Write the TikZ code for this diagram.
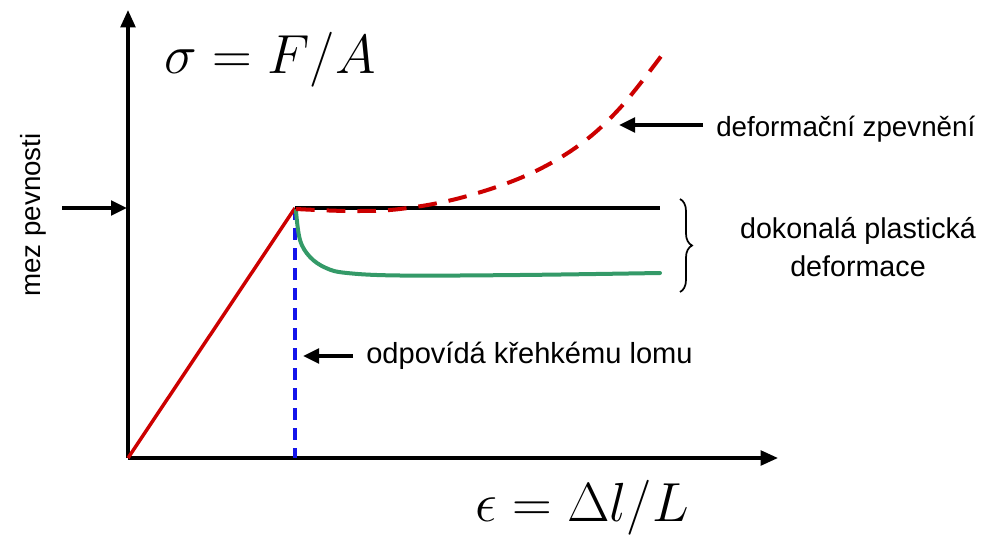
\documentclass[tikz,border=0pt]{standalone}
\usepackage{fontspec}
\newfontfamily\arialf{Liberation Sans}
\usetikzlibrary{arrows.meta,decorations.pathreplacing}
\definecolor{cred}{RGB}{204,0,0}
\definecolor{cgreen}{RGB}{52,154,104}
\definecolor{cblue}{RGB}{20,20,235}
\begin{document}
\begin{tikzpicture}[x=0.75pt,y=-0.75pt,
  axis/.style={line width=2.5pt,-{Triangle[length=13pt,width=11pt]}},
  lblarrow/.style={line width=2.5pt,-{Triangle[length=12pt,width=11pt]}},
  lbl/.style={font=\arialf\fontsize{20.8}{25}\selectfont,inner sep=0pt,align=center},
  formula/.style={font=\Huge,inner sep=0pt,scale=1.66}]
\useasboundingbox (0,0) rectangle (993,535);
% axes
\coordinate (O) at (128,458);
\coordinate (ytip) at (128,10);
\coordinate (xtip) at (778,458);
\coordinate (Y) at (295,208);
\coordinate (Yb) at (295,458);
\coordinate (Bend) at (660,208);
\draw[axis] (O) -- (ytip);
\draw[axis] (O) -- (xtip);
% blue dashed
\draw[cblue,line width=2.5pt,dash pattern=on 9pt off 6pt] (Y) -- (Yb);
% elastic
\draw[cred,line width=2.6pt] (O) -- (Y);
% perfect plastic
\draw[line width=3.2pt] (Y) -- (Bend);
% green
\draw[cgreen,line width=3pt,line cap=round] plot[smooth,tension=0.6] coordinates
  {(296,211) (300,240) (310,257) (326,268) (347,273) (400,275.5) (520,275) (660,273)};
% red dashed hardening
\draw[cred,line width=3pt,dash pattern=on 14pt off 9pt] plot[smooth,tension=0.6] coordinates
  {(296,209) (350,211) (400,209) (460,198) (525,176) (578,146) (620,108) (662,55)};
% brace
\draw[line width=1.3pt,decorate,decoration={brace,amplitude=9pt}] (680,199) -- (680,292) coordinate[midway] (brmid);
% labels
\node[formula] (sig) at (270,60) {$\sigma = F/A$};
\node[formula] (eps) at (582,508) {$\epsilon = \Delta l/L$};
\node[lbl,rotate=90] (mez) at (33,215) {mez pevnosti};
\coordinate (mezs) at (62,208);
\coordinate (meze) at (127,208);
\draw[lblarrow] (mezs) -- (meze);
\node[lbl,anchor=west] (zpev) at (716,129) {deformační zpevnění};
\coordinate (zs) at (703,125);
\coordinate (ze) at (619,125);
\draw[lblarrow] (zs) -- (ze);
\node[lbl,font=\arialf\fontsize{21.5}{26}\selectfont] (dok) at (858,247) {dokonalá plastická\\[2pt]deformace};
\node[lbl,anchor=west,font=\arialf\fontsize{21.8}{26}\selectfont] (krh) at (366,356) {odpovídá křehkému lomu};
\coordinate (ks) at (353,356);
\coordinate (ke) at (303,356);
\draw[lblarrow] (ks) -- (ke);
\end{tikzpicture}
\end{document}
